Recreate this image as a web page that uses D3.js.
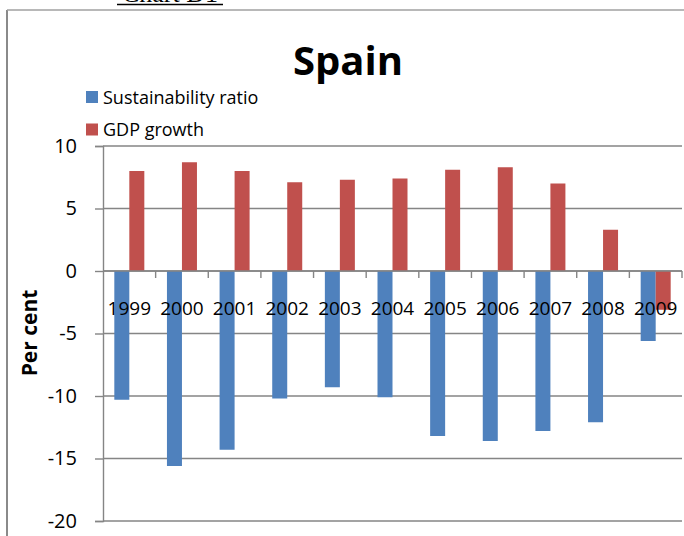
<!DOCTYPE html>
<html>
<head>
<meta charset="utf-8">
<script src="https://cdn.jsdelivr.net/npm/d3@7"></script>
<style>
  body { margin: 0; background: #fff; }
  text { font-family: "Open Sans", "Noto Sans", sans-serif; fill: #000; }
</style>
</head>
<body>
<div id="chart"></div>
<script>
// data
const years = ["1999", "2000", "2001", "2002", "2003", "2004", "2005", "2006", "2007", "2008", "2009"];
const sustainability = [-10.3, -15.6, -14.3, -10.2, -9.3, -10.1, -13.2, -13.6, -12.8, -12.1, -5.6];
const gdpGrowth = [8.0, 8.7, 8.0, 7.1, 7.3, 7.4, 8.1, 8.3, 7.0, 3.3, -3.1];
const yTicks = [-20, -15, -10, -5, 0, 5, 10];
const seriesNames = ["Sustainability ratio", "GDP growth"];
const seriesColors = ["#4F81BD", "#C0504D"];

const width = 684, height = 536;
const plot = { left: 103, right: 682, top: 146, bottom: 521 };

const svg = d3.select("#chart").append("svg")
    .attr("width", width)
    .attr("height", height);

// page frame (document border lines)
svg.append("line")
    .attr("x1", 7).attr("x2", 7).attr("y1", 10).attr("y2", height)
    .attr("stroke", "#8a8a8a").attr("stroke-width", 2);
svg.append("line")
    .attr("x1", 7).attr("x2", width).attr("y1", 10).attr("y2", 10)
    .attr("stroke", "#a0a0a0").attr("stroke-width", 1.5);

// caption above the frame (cut off by the top edge, as in the source)
svg.append("text")
    .attr("x", 170).attr("y", 2)
    .attr("text-anchor", "middle")
    .style("font-family", "'Liberation Serif', serif")
    .style("font-size", "26px")
    .text("Chart D1");
svg.append("line")
    .attr("x1", 117).attr("x2", 223).attr("y1", 4.5).attr("y2", 4.5)
    .attr("stroke", "#000").attr("stroke-width", 1.5);

// scales
const x = d3.scaleBand()
    .domain(years)
    .range([plot.left, plot.right])
    .padding(0);
const y = d3.scaleLinear()
    .domain([-20, 10])
    .range([plot.bottom, plot.top]);

const barW = x.bandwidth() * 0.285;

// gridlines
svg.append("g")
    .selectAll("line")
    .data(yTicks)
    .enter().append("line")
    .attr("x1", plot.left).attr("x2", plot.right)
    .attr("y1", d => y(d)).attr("y2", d => y(d))
    .attr("stroke", "#858585").attr("stroke-width", 1.4);

// y axis
const yAxis = svg.append("g")
    .attr("transform", "translate(" + plot.left + ",0)")
    .call(d3.axisLeft(y).tickValues(yTicks).tickSize(8).tickPadding(18)
        .tickFormat(d => String(d)));
yAxis.select(".domain").attr("stroke", "#858585").attr("stroke-width", 1.4);
yAxis.selectAll(".tick line").attr("stroke", "#858585").attr("stroke-width", 1.4);
yAxis.selectAll(".tick text")
    .style("font-family", "'Open Sans', sans-serif")
    .style("font-size", "20px")
    .attr("fill", "#000");

// bars
const rows = years.map((yr, i) => ({ year: yr, s: sustainability[i], g: gdpGrowth[i] }));

svg.append("g").selectAll("rect")
    .data(rows)
    .enter().append("rect")
    .attr("x", d => x(d.year) + x.bandwidth() / 2 - barW)
    .attr("width", barW)
    .attr("y", d => y(Math.max(0, d.s)))
    .attr("height", d => Math.abs(y(d.s) - y(0)))
    .attr("fill", seriesColors[0]);

svg.append("g").selectAll("rect")
    .data(rows)
    .enter().append("rect")
    .attr("x", d => x(d.year) + x.bandwidth() / 2)
    .attr("width", barW)
    .attr("y", d => y(Math.max(0, d.g)))
    .attr("height", d => Math.abs(y(d.g) - y(0)))
    .attr("fill", seriesColors[1]);

// category axis on the zero line
const xAxis = svg.append("g")
    .attr("transform", "translate(0," + y(0) + ")");
xAxis.append("line")
    .attr("x1", plot.left).attr("x2", plot.right)
    .attr("stroke", "#858585").attr("stroke-width", 1.4);
xAxis.selectAll(".cat-tick")
    .data(years)
    .enter().append("line")
    .attr("class", "cat-tick")
    .attr("x1", d => x(d) + x.bandwidth()).attr("x2", d => x(d) + x.bandwidth())
    .attr("y1", 0).attr("y2", 7)
    .attr("stroke", "#858585").attr("stroke-width", 1.4);
xAxis.selectAll("text")
    .data(years)
    .enter().append("text")
    .attr("x", d => x(d) + x.bandwidth() / 2)
    .attr("y", 44)
    .attr("text-anchor", "middle")
    .style("font-size", "19px")
    .text(d => d);

// title
svg.append("text")
    .attr("x", 348).attr("y", 75)
    .attr("text-anchor", "middle")
    .style("font-size", "40px")
    .style("font-weight", "bold")
    .text("Spain");

// legend
const legend = svg.append("g").selectAll("g")
    .data(seriesNames)
    .enter().append("g")
    .attr("transform", (d, i) => "translate(86," + (91 + i * 32.5) + ")");
legend.append("rect")
    .attr("width", 12).attr("height", 12)
    .attr("fill", (d, i) => seriesColors[i]);
legend.append("text")
    .attr("x", 17).attr("y", 12.5)
    .style("font-size", "18px")
    .text(d => d);

// y axis title
svg.append("text")
    .attr("transform", "translate(37,333) rotate(-90)")
    .attr("text-anchor", "middle")
    .style("font-size", "21px")
    .style("font-weight", "bold")
    .text("Per cent");
</script>
</body>
</html>
